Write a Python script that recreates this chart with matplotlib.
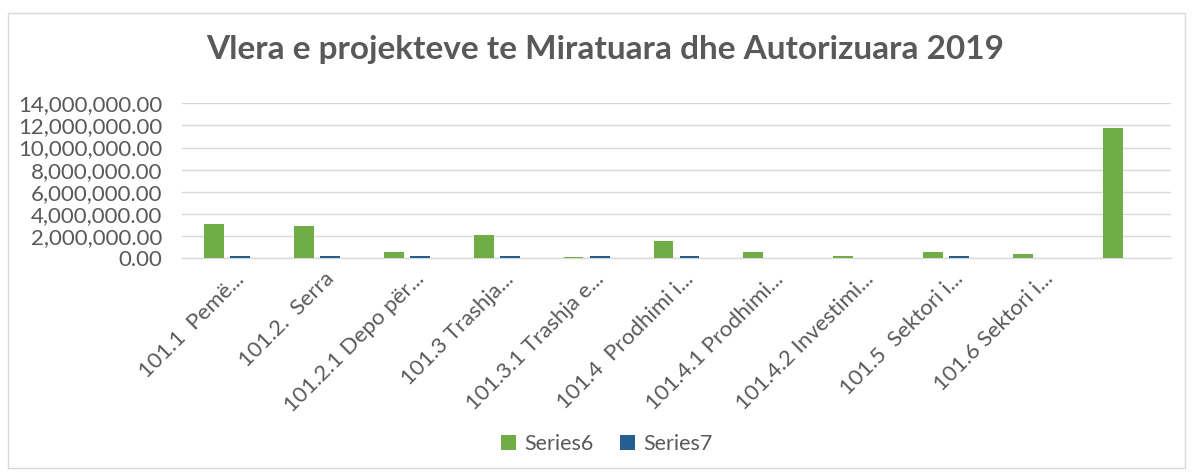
import matplotlib
matplotlib.use("Agg")
import matplotlib.pyplot as plt
from matplotlib.patches import Rectangle
from matplotlib.ticker import FuncFormatter
from matplotlib.transforms import ScaledTranslation
import numpy as np

plt.rcParams["font.family"] = ["Lato", "DejaVu Sans"]

categories = [
    "101.1  Pemë...",
    "101.2.  Serra",
    "101.2.1 Depo për...",
    "101.3 Trashja...",
    "101.3.1 Trashja e...",
    "101.4  Prodhimi i...",
    "101.4.1 Prodhimi...",
    "101.4.2 Investimi...",
    "101.5  Sektori i...",
    "101.6 Sektori i...",
    "",
]
series6 = [3100000, 2920000, 540000, 2080000, 160000, 1570000,
           540000, 170000, 540000, 390000, 11810000]
series7 = [190000, 190000, 190000, 190000, 190000, 190000,
           0, 0, 190000, 0, 0]
series_names = ["Series6", "Series7"]
title = "Vlera e projekteve te Miratuara dhe Autorizuara 2019"

GREEN = "#70AD47"
BLUE = "#255E91"
GRID = "#D9D9D9"
TEXT = "#595959"

W, H = 1192, 474
fig = plt.figure(figsize=(W / 100, H / 100), dpi=100)
fig.patch.set_facecolor("white")

# chart frame
fig.add_artist(Rectangle((8 / W, 1 - 468 / H), (1185 - 8) / W, (468 - 13) / H,
                         transform=fig.transFigure, fill=False,
                         edgecolor=GRID, linewidth=1.0))

ax = fig.add_axes([182 / W, 1 - 258.3 / H, (1171 - 182) / W, (258.3 - 103.3) / H])

x = np.arange(len(categories))
bw = 0.22
off = 0.145
ax.bar(x - off, series6, width=bw, color=GREEN, label=series_names[0], zorder=3)
ax.bar(x + off, series7, width=bw, color=BLUE, label=series_names[1], zorder=3)

ax.set_xlim(-0.5, len(categories) - 0.5)
ax.set_ylim(0, 14000000)
ax.set_yticks(np.arange(0, 14000001, 2000000))
ax.yaxis.set_major_formatter(FuncFormatter(lambda v, p: f"{v:,.2f}"))
ax.grid(axis="y", color=GRID, linewidth=1.0, zorder=0)
ax.set_axisbelow(True)

for s in ["top", "right", "left"]:
    ax.spines[s].set_visible(False)
ax.spines["bottom"].set_color(GRID)
ax.spines["bottom"].set_linewidth(1.0)

ax.tick_params(axis="y", length=0, pad=14, labelsize=16, labelcolor=TEXT)
ax.tick_params(axis="x", length=0, pad=4, labelsize=16, labelcolor=TEXT)
ax.set_xticks(x)
ax.set_xticklabels(categories, rotation=45, ha="right", rotation_mode="anchor")
# nudge rotated labels a little down-right, like the original
shift = ScaledTranslation(7 / 100, -5 / 100, fig.dpi_scale_trans)
for lbl in ax.get_xticklabels():
    lbl.set_transform(lbl.get_transform() + shift)

fig.text(605 / W, 1 - 50 / H, title, ha="center", va="center",
         fontsize=24, fontweight="bold", color=TEXT)

fig.legend(loc="center", bbox_to_anchor=(607 / W, 1 - 444 / H), ncol=2,
           frameon=False, fontsize=15.5, labelcolor=TEXT,
           handlelength=0.7, handleheight=0.7, handletextpad=0.4,
           columnspacing=1.2)

fig.savefig("out.png", dpi=100)
